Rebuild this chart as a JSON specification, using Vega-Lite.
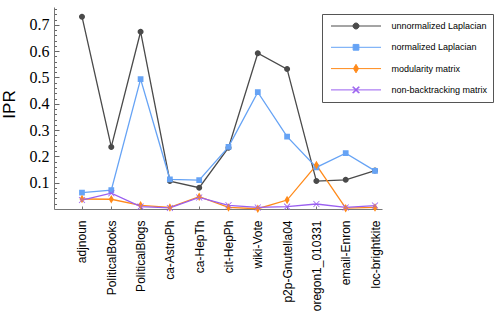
{
  "$schema": "https://vega.github.io/schema/vega-lite/v6.json",
  "width": 328,
  "height": 202,
  "autosize": {"type": "none"},
  "padding": {"left": 54, "top": 7, "right": 116, "bottom": 102},
  "background": "white",
  "config": {
    "view": {"stroke": null},
    "axis": {"grid": false},
    "legend": {
      "orient": "none", "legendX": 268, "legendY": 7,
      "padding": 5, "strokeColor": "#555", "fillColor": "white",
      "symbolSize": 2500, "symbolStrokeWidth": 1, "symbolOffset": 3.5,
      "clipHeight": 14, "rowPadding": 7.3,
      "labelFont": "Liberation Sans", "labelFontSize": 9, "labelColor": "black", "labelOffset": 10,
      "labelLimit": 200, "symbolOpacity": 1
    }
  },
  "data": {"values": [
    {"i": 0, "dataset": "adjnoun", "method": "unnormalized Laplacian", "ipr": 0.731},
    {"i": 1, "dataset": "PoliticalBooks", "method": "unnormalized Laplacian", "ipr": 0.236},
    {"i": 2, "dataset": "PoliticalBlogs", "method": "unnormalized Laplacian", "ipr": 0.674},
    {"i": 3, "dataset": "ca-AstroPh", "method": "unnormalized Laplacian", "ipr": 0.106},
    {"i": 4, "dataset": "ca-HepTh", "method": "unnormalized Laplacian", "ipr": 0.081},
    {"i": 5, "dataset": "cit-HepPh", "method": "unnormalized Laplacian", "ipr": 0.233},
    {"i": 6, "dataset": "wiki-Vote", "method": "unnormalized Laplacian", "ipr": 0.592},
    {"i": 7, "dataset": "p2p-Gnutella04", "method": "unnormalized Laplacian", "ipr": 0.532},
    {"i": 8, "dataset": "oregon1_010331", "method": "unnormalized Laplacian", "ipr": 0.106},
    {"i": 9, "dataset": "email-Enron", "method": "unnormalized Laplacian", "ipr": 0.111},
    {"i": 10, "dataset": "loc-brightkite", "method": "unnormalized Laplacian", "ipr": 0.146},
    {"i": 0, "dataset": "adjnoun", "method": "normalized Laplacian", "ipr": 0.062},
    {"i": 1, "dataset": "PoliticalBooks", "method": "normalized Laplacian", "ipr": 0.072},
    {"i": 2, "dataset": "PoliticalBlogs", "method": "normalized Laplacian", "ipr": 0.494},
    {"i": 3, "dataset": "ca-AstroPh", "method": "normalized Laplacian", "ipr": 0.113},
    {"i": 4, "dataset": "ca-HepTh", "method": "normalized Laplacian", "ipr": 0.110},
    {"i": 5, "dataset": "cit-HepPh", "method": "normalized Laplacian", "ipr": 0.236},
    {"i": 6, "dataset": "wiki-Vote", "method": "normalized Laplacian", "ipr": 0.444},
    {"i": 7, "dataset": "p2p-Gnutella04", "method": "normalized Laplacian", "ipr": 0.275},
    {"i": 8, "dataset": "oregon1_010331", "method": "normalized Laplacian", "ipr": 0.158},
    {"i": 9, "dataset": "email-Enron", "method": "normalized Laplacian", "ipr": 0.212},
    {"i": 10, "dataset": "loc-brightkite", "method": "normalized Laplacian", "ipr": 0.145},
    {"i": 0, "dataset": "adjnoun", "method": "modularity matrix", "ipr": 0.038},
    {"i": 1, "dataset": "PoliticalBooks", "method": "modularity matrix", "ipr": 0.037},
    {"i": 2, "dataset": "PoliticalBlogs", "method": "modularity matrix", "ipr": 0.014},
    {"i": 3, "dataset": "ca-AstroPh", "method": "modularity matrix", "ipr": 0.006},
    {"i": 4, "dataset": "ca-HepTh", "method": "modularity matrix", "ipr": 0.047},
    {"i": 5, "dataset": "cit-HepPh", "method": "modularity matrix", "ipr": 0.006},
    {"i": 6, "dataset": "wiki-Vote", "method": "modularity matrix", "ipr": 0.001},
    {"i": 7, "dataset": "p2p-Gnutella04", "method": "modularity matrix", "ipr": 0.034},
    {"i": 8, "dataset": "oregon1_010331", "method": "modularity matrix", "ipr": 0.167},
    {"i": 9, "dataset": "email-Enron", "method": "modularity matrix", "ipr": 0.003},
    {"i": 10, "dataset": "loc-brightkite", "method": "modularity matrix", "ipr": 0.006},
    {"i": 0, "dataset": "adjnoun", "method": "non-backtracking matrix", "ipr": 0.034},
    {"i": 1, "dataset": "PoliticalBooks", "method": "non-backtracking matrix", "ipr": 0.060},
    {"i": 2, "dataset": "PoliticalBlogs", "method": "non-backtracking matrix", "ipr": 0.009},
    {"i": 3, "dataset": "ca-AstroPh", "method": "non-backtracking matrix", "ipr": 0.004},
    {"i": 4, "dataset": "ca-HepTh", "method": "non-backtracking matrix", "ipr": 0.044},
    {"i": 5, "dataset": "cit-HepPh", "method": "non-backtracking matrix", "ipr": 0.014},
    {"i": 6, "dataset": "wiki-Vote", "method": "non-backtracking matrix", "ipr": 0.006},
    {"i": 7, "dataset": "p2p-Gnutella04", "method": "non-backtracking matrix", "ipr": 0.009},
    {"i": 8, "dataset": "oregon1_010331", "method": "non-backtracking matrix", "ipr": 0.019},
    {"i": 9, "dataset": "email-Enron", "method": "non-backtracking matrix", "ipr": 0.006},
    {"i": 10, "dataset": "loc-brightkite", "method": "non-backtracking matrix", "ipr": 0.013}
  ]},
  "encoding": {
    "x": {
      "field": "dataset", "type": "nominal", "sort": null,
      "scale": {"type": "point", "padding": 0.597, "align": 0.8},
      "axis": {
        "title": null,
        "labelAngle": -90, "labelAlign": "right", "labelBaseline": "middle",
        "labelFont": "Liberation Sans", "labelFontSize": 12, "labelColor": "black",
        "labelPadding": 14, "tickSize": -3, "tickColor": "#777", "domainColor": "#777",
        "labelOverlap": false, "labelLimit": 200
      }
    },
    "y": {
      "field": "ipr", "type": "quantitative",
      "scale": {"domain": [0, 0.768], "nice": false},
      "axis": {
        "title": "IPR", "titleFont": "Liberation Sans", "titleFontSize": 17, "titleFontWeight": "normal",
        "titleColor": "black", "titleAngle": -90, "titleX": -45, "titleY": 97,
        "titleAlign": "center", "titleBaseline": "middle",
        "values": [0.02,0.04,0.06,0.08,0.1,0.12,0.14,0.16,0.18,0.2,0.22,0.24,0.26,0.28,0.3,0.32,0.34,0.36,0.38,0.4,0.42,0.44,0.46,0.48,0.5,0.52,0.54,0.56,0.58,0.6,0.62,0.64,0.66,0.68,0.7,0.72,0.74,0.76],
        "labelExpr": "round(datum.value*50) % 5 === 0 ? format(datum.value, '.1f') : ''",
        "labelFont": "Liberation Serif", "labelFontSize": 16, "labelColor": "black",
        "labelPadding": 10,
        "tickSize": {"condition": {"test": "round(datum.value*50) % 5 === 0", "value": -5}, "value": -2.5},
        "tickColor": "#666", "domainColor": "#777", "labelOverlap": false
      }
    },
    "color": {
      "field": "method", "type": "nominal", "title": null,
      "scale": {
        "domain": ["unnormalized Laplacian", "normalized Laplacian", "modularity matrix", "non-backtracking matrix"],
        "range": ["#4a4a4a", "#66a3f5", "#ff8a1a", "#9a5ff0"]
      }
    }
  },
  "layer": [
    {
      "mark": {"type": "line", "strokeWidth": 1.3},
      "encoding": {
        "order": {"field": "i", "type": "quantitative"}
      }
    },
    {
      "mark": {"type": "point", "filled": true, "size": 2500, "strokeWidth": 0, "opacity": 1},
      "encoding": {
        "shape": {
          "field": "method", "type": "nominal", "title": null,
          "scale": {
            "domain": ["unnormalized Laplacian", "normalized Laplacian", "modularity matrix", "non-backtracking matrix"],
            "range": [
              "M-1,0H1M-0.12,0A0.12,0.12,0,1,0,0.12,0A0.12,0.12,0,1,0,-0.12,0Z",
              "M-1,0H1M-0.115,-0.115H0.115V0.115H-0.115Z",
              "M-1,0H1M0,-0.17L0.1,0L0,0.17L-0.1,0Z",
              "M-1,0H1M-0.109,-0.131L0.131,0.109L0.109,0.131L-0.131,-0.109ZM-0.109,0.131L0.131,-0.109L0.109,-0.131L-0.131,0.109Z"
            ]
          }
        },
        "stroke": {
          "field": "method", "type": "nominal", "title": null,
          "scale": {
            "domain": ["unnormalized Laplacian", "normalized Laplacian", "modularity matrix", "non-backtracking matrix"],
            "range": ["#b4b4b4", "#a9c9f8", "#fccfa6", "#c4a4f6"]
          }
        }
      }
    }
  ]
}
